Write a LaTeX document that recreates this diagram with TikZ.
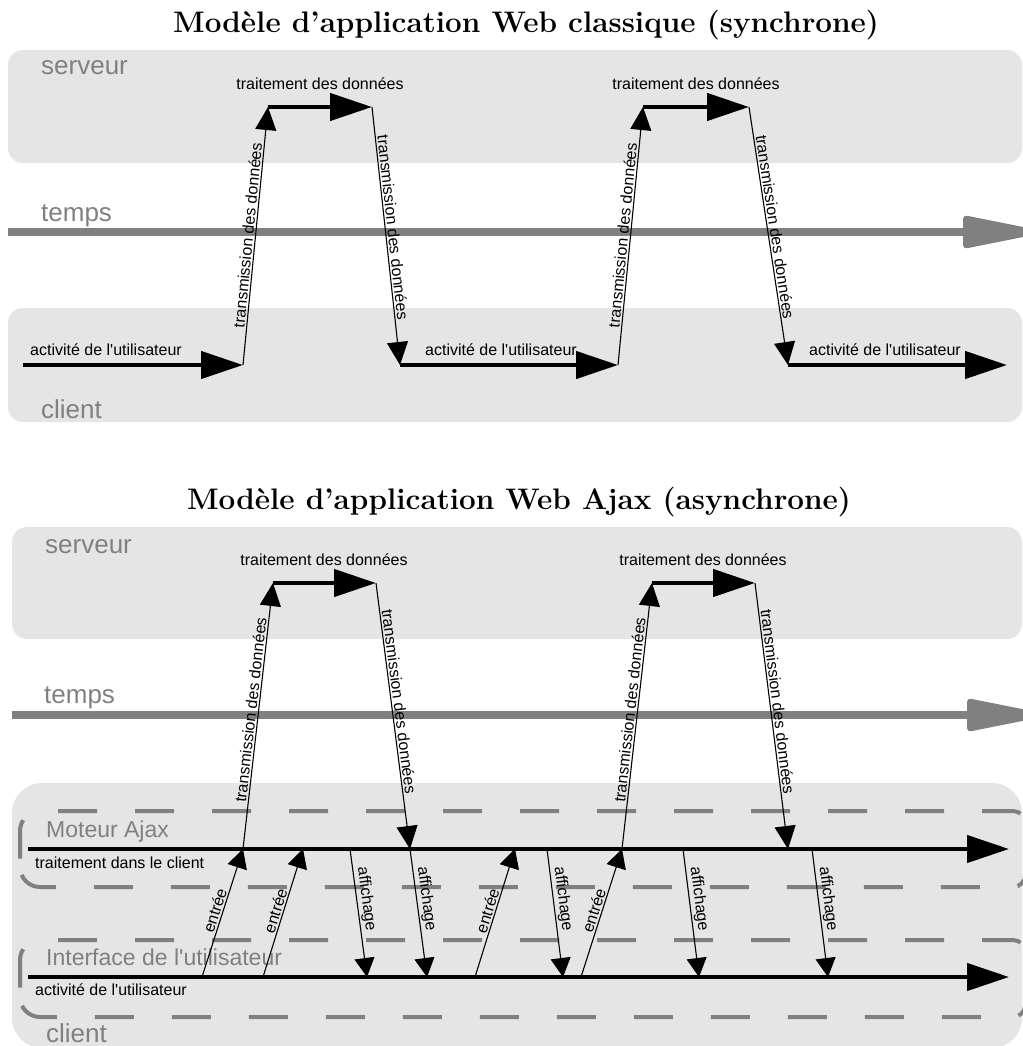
\documentclass[tikz,border=0pt]{standalone}
\usepackage{fontspec}
\usetikzlibrary{arrows.meta}
\newfontfamily\lab{Liberation Sans}[Ligatures=TeXOff]
\definecolor{boxgray}{HTML}{E5E5E5}
\definecolor{midgray}{HTML}{808080}

% dashed lane outline: #1 = top edge, #2 = bottom edge
\newcommand\dashedlane[2]{%
  \draw[lanedash] (20,{#1+47.6}) -- (20,{#1+20})
    arc[start angle=180,end angle=270,radius=20] -- (1013,#1)
    arc[start angle=270,end angle=360,radius=12.3] -- (1025.3,{#2-12.3})
    arc[start angle=0,end angle=90,radius=12.3] -- (40,#2)
    arc[start angle=90,end angle=180,radius=20] -- cycle;}

% grey time axis: shaft from #1 to #2, rounded head starting at #2
\newcommand\timeaxis[2]{%
  \draw[timeline] (#1) -- (#2);
  \fill[midgray,rounded corners=4pt] ([yshift=17pt]#2) -- ([xshift=85pt]#2) -- ([yshift=-17pt]#2) -- cycle;}

\begin{document}
\begin{tikzpicture}[x=1pt,y=-1pt,
  panel/.style={fill=boxgray,draw=none,rounded corners=15pt},
  bigpanel/.style={fill=boxgray,draw=none,rounded corners=30pt},
  lanedash/.style={draw=midgray,line width=4pt,dash pattern=on 39pt off 38pt},
  grouplabel/.style={text=midgray,font=\lab\fontsize{26}{30}\selectfont,anchor=base west,inner sep=0},
  sublabel/.style={text=midgray,font=\lab\fontsize{23}{27}\selectfont,anchor=base west,inner sep=0},
  small/.style={font=\lab\fontsize{16}{19}\selectfont,inner sep=0},
  along/.style={font=\lab\fontsize{16}{19}\selectfont,sloped,above,inner sep=1.5pt},
  title/.style={font=\fontsize{29.7}{34}\selectfont\bfseries,anchor=base,inner sep=0},
  bigarrow/.style={line width=4.5pt,-{Triangle[length=42pt,width=27pt]}},
  msg/.style={line width=1.1pt,-{Triangle[length=23pt,width=21pt]}},
  localmsg/.style={line width=1.1pt,-{Triangle[length=19pt,width=20pt]}},
  timeline/.style={draw=midgray,line width=8pt}
]
\useasboundingbox (0,0) rectangle (1022,1046);

%%%%%%%%%%%%%%%% classic (synchronous) model %%%%%%%%%%%%%%%%
\node[title] (titleA) at (526,33) {Modèle d'application Web classique (synchrone)};

\fill[panel] (8,50) rectangle (1022,163);
\fill[panel] (8,308) rectangle (1022,422);

\node[grouplabel] (srvA) at (41,75) {serveur};
\node[grouplabel] (timeA) at (41,221) {temps};
\node[grouplabel] (cliA) at (41,418) {client};

\coordinate (tA0) at (8,232);
\coordinate (tA1) at (963,232);
\timeaxis{tA0}{tA1}

\coordinate (cA0) at (23,365);
\coordinate (uA1) at (243,365);
\coordinate (sA1) at (268,107);
\coordinate (sA2) at (372,107);
\coordinate (dA1) at (400,365);
\coordinate (uA2) at (618,365);
\coordinate (sA3) at (643,107);
\coordinate (sA4) at (749,107);
\coordinate (dA2) at (788,365);
\coordinate (cA1) at (1007,365);

\node[small,anchor=base] (procA1) at (320,90) {traitement des données};
\node[small,anchor=base] (procA2) at (696,90) {traitement des données};
\node[small,anchor=base west] (actA1) at (30,355) {activité de l'utilisateur};
\node[small,anchor=base west] (actA2) at (425,355) {activité de l'utilisateur};
\node[small,anchor=base west] (actA3) at (809,355) {activité de l'utilisateur};

\draw[bigarrow] (cA0) -- (uA1);
\draw[msg] (uA1) -- node[along,pos=0.5] {transmission des données} (sA1);
\draw[bigarrow] (sA1) -- (sA2);
\draw[msg] (sA2) -- node[along,pos=0.47] {transmission des données} (dA1);
\draw[bigarrow] (dA1) -- (uA2);
\draw[msg] (uA2) -- node[along,pos=0.5] {transmission des données} (sA3);
\draw[bigarrow] (sA3) -- (sA4);
\draw[msg] (sA4) -- node[along,pos=0.47] {transmission des données} (dA2);
\draw[bigarrow] (dA2) -- (cA1);

%%%%%%%%%%%%%%%% Ajax (asynchronous) model %%%%%%%%%%%%%%%%
\node[title] (titleB) at (519,509) {Modèle d'application Web Ajax (asynchrone)};

\fill[panel] (12,527) rectangle (1022,639);
\fill[bigpanel] (12,783) rectangle (1022,1048);

\dashedlane{811}{887}
\dashedlane{940}{1017}

\node[grouplabel] (srvB) at (45,553) {serveur};
\node[grouplabel] (timeB) at (44,703) {temps};
\node[grouplabel] (cliB) at (46,1042) {client};
\node[sublabel] (engB) at (46,837) {Moteur Ajax};
\node[sublabel] (uiB) at (46,965) {Interface de l'utilisateur};

\coordinate (tB0) at (12,715);
\coordinate (tB1) at (967,715);
\timeaxis{tB0}{tB1}

% engine and user lanes
\coordinate (eB0) at (28,849);
\coordinate (eB1) at (1009,849);
\coordinate (iB0) at (28,977);
\coordinate (iB1) at (1009,977);

% server exchanges
\coordinate (uB1) at (243,849);
\coordinate (sB1) at (273,583);
\coordinate (sB2) at (376,583);
\coordinate (dB1) at (410,849);
\coordinate (uB2) at (622,849);
\coordinate (sB3) at (652,583);
\coordinate (sB4) at (755,583);
\coordinate (dB2) at (788,849);

% inputs (interface -> engine)
\coordinate (in1) at (202,977);
\coordinate (in2) at (263,977);
\coordinate (in2t) at (303,849);
\coordinate (in3) at (475,977);
\coordinate (in3t) at (515,849);
\coordinate (in4) at (581,977);

% displays (engine -> interface)
\coordinate (af1) at (350,849);  \coordinate (af1b) at (367,977);
\coordinate (af2b) at (427,977);
\coordinate (af3) at (547,849);  \coordinate (af3b) at (563,977);
\coordinate (af4) at (683,849);  \coordinate (af4b) at (699,977);
\coordinate (af5) at (812,849);  \coordinate (af5b) at (828,977);

\node[small,anchor=base] (procB1) at (324,565) {traitement des données};
\node[small,anchor=base] (procB2) at (703,565) {traitement des données};
\node[small,anchor=base west] (engtxt) at (35,868) {traitement dans le client};
\node[small,anchor=base west] (actB) at (35,995) {activité de l'utilisateur};

\draw[bigarrow] (eB0) -- (eB1);
\draw[bigarrow] (iB0) -- (iB1);

\draw[msg] (uB1) -- node[along,pos=0.52] {transmission des données} (sB1);
\draw[bigarrow] (sB1) -- (sB2);
\draw[msg] (sB2) -- node[along,pos=0.45] {transmission des données} (dB1);
\draw[msg] (uB2) -- node[along,pos=0.52] {transmission des données} (sB3);
\draw[bigarrow] (sB3) -- (sB4);
\draw[msg] (sB4) -- node[along,pos=0.45] {transmission des données} (dB2);

\draw[localmsg] (in1) -- node[along,pos=0.5] {entrée} (uB1);
\draw[localmsg] (in2) -- node[along,pos=0.5] {entrée} (in2t);
\draw[localmsg] (in3) -- node[along,pos=0.5] {entrée} (in3t);
\draw[localmsg] (in4) -- node[along,pos=0.5] {entrée} (uB2);

\draw[localmsg] (af1) -- node[along,pos=0.4] {affichage} (af1b);
\draw[localmsg] (dB1) -- node[along,pos=0.4] {affichage} (af2b);
\draw[localmsg] (af3) -- node[along,pos=0.4] {affichage} (af3b);
\draw[localmsg] (af4) -- node[along,pos=0.4] {affichage} (af4b);
\draw[localmsg] (af5) -- node[along,pos=0.4] {affichage} (af5b);
\end{tikzpicture}
\end{document}
